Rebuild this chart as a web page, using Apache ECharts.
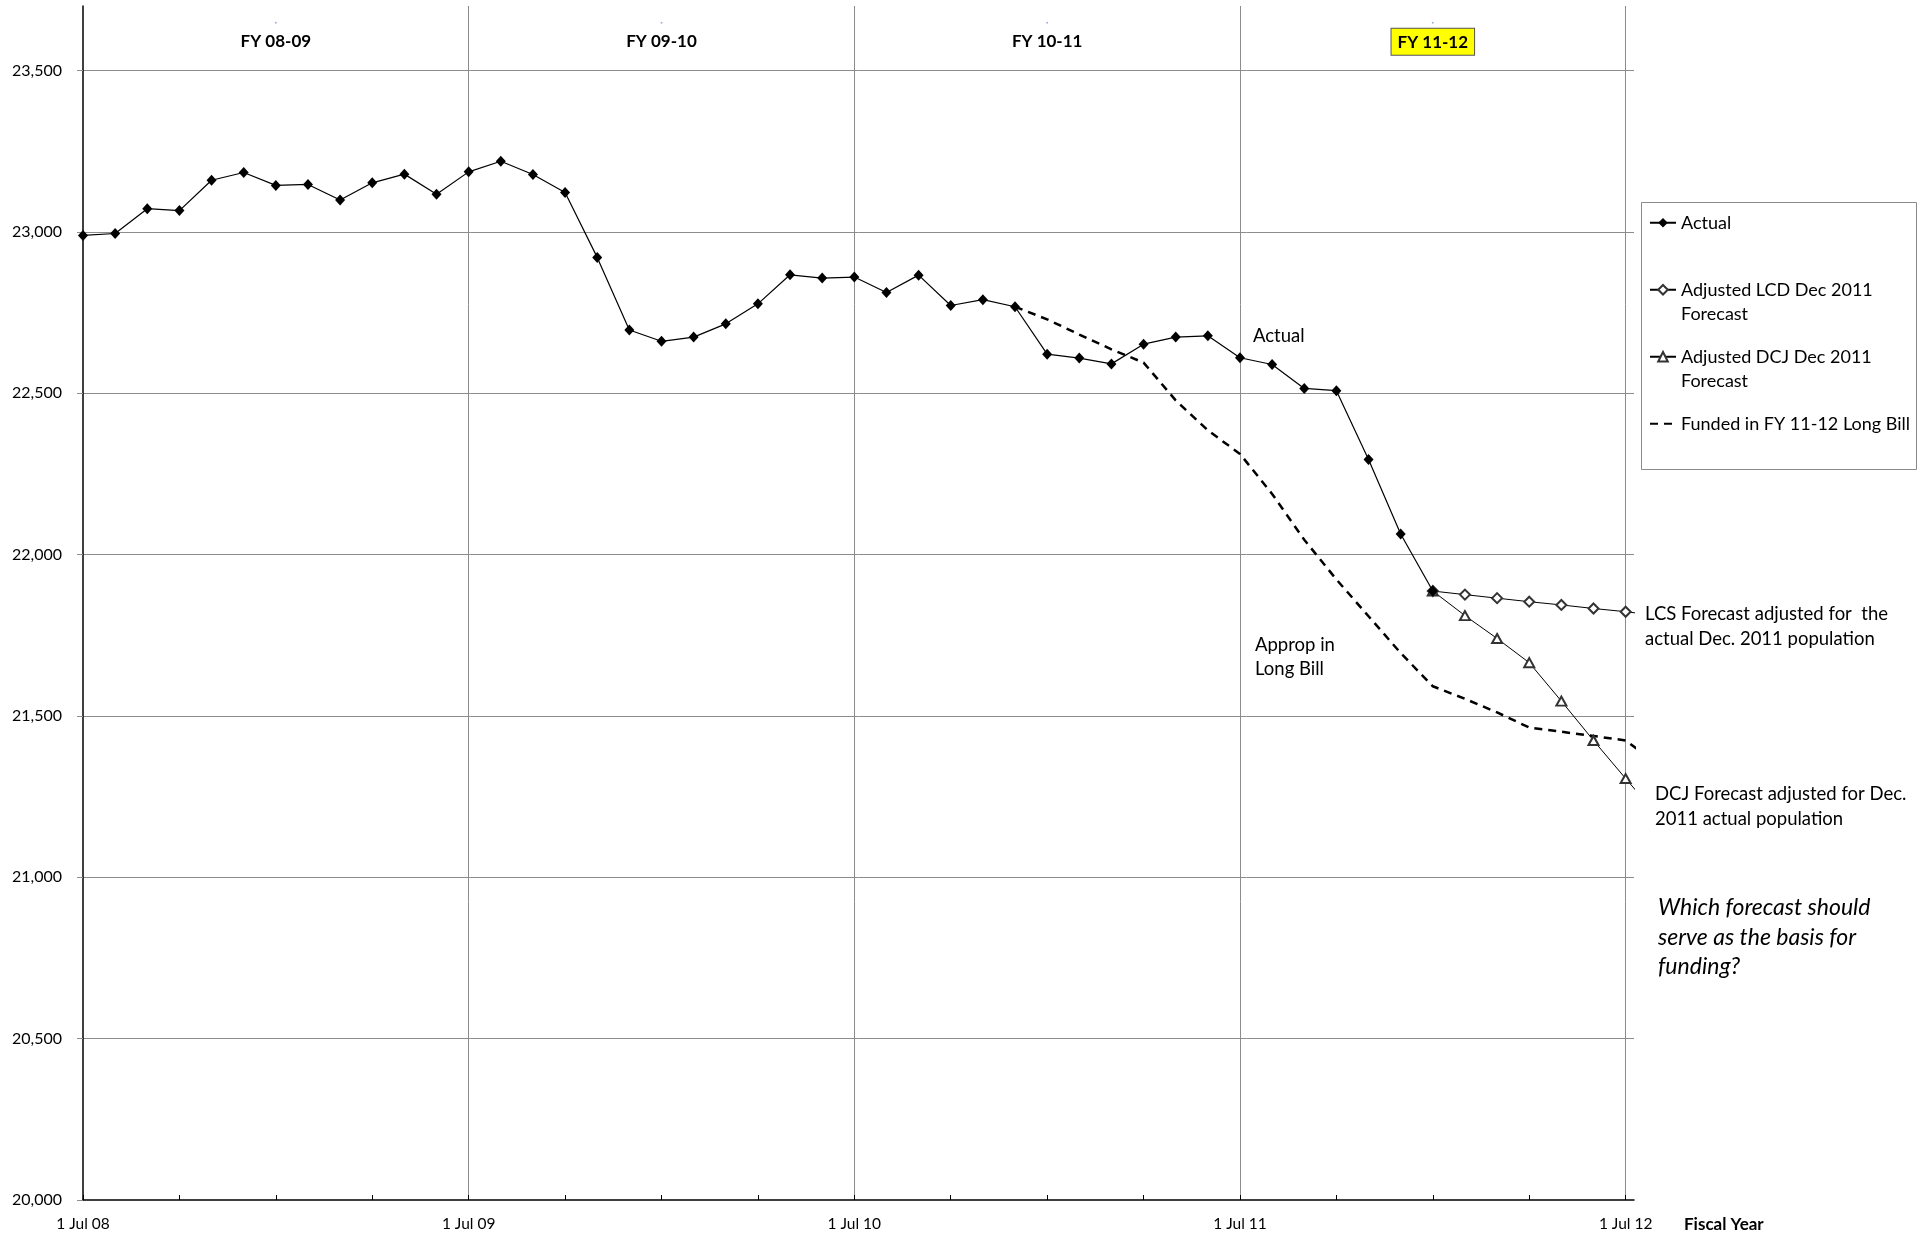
<!DOCTYPE html>
<html>
<head>
<meta charset="utf-8">
<title>Prison population: actual vs. forecasts</title>
<script src="https://cdn.jsdelivr.net/npm/echarts@6/dist/echarts.min.js"></script>
<style>
  html, body { margin: 0; padding: 0; background: #fff; }
  #chart { width: 1926px; height: 1237px; }
</style>
</head>
<body>
<div id="chart"></div>
<script>
// Month offsets are counted from 1 Jul 2008 (0) — one unit per month.
const actualStart = 0;           // Jul 08
const actual = [
  22989, 22995, 23072, 23066, 23160, 23184, 23144, 23147, 23099, 23152, 23179, 23117, // FY 08-09
  23186, 23219, 23178, 23122, 22921, 22696, 22661, 22674, 22715, 22777, 22867, 22857, // FY 09-10
  22860, 22812, 22866, 22772, 22790, 22768, 22621, 22609, 22591, 22652, 22674, 22678, // FY 10-11
  22610, 22589, 22515, 22508, 22295, 22064, 21887                                      // FY 11-12 to Jan
];

const forecastStart = 42;        // Jan 12
const lcdForecast = [21887, 21876, 21865, 21854, 21844, 21833, 21823, 21811];
const dcjForecast = [21887, 21811, 21740, 21665, 21546, 21424, 21306, 21190];

const fundedStart = 29;          // Dec 10
const funded = [
  22768, 22729, 22682, 22636, 22595, 22478, 22385, 22312, 22188, 22046, 21923,
  21809, 21695, 21592, 21553, 21511, 21464, 21451, 21438, 21424, 21350
];

const yearTickLabels = ['1 Jul 08', '1 Jul 09', '1 Jul 10', '1 Jul 11', '1 Jul 12'];
const fiscalYears = ['FY 08-09', 'FY 09-10', 'FY 10-11', 'FY 11-12'];
const fiscalMid = [6, 18, 30, 42];
const fiscalMarkY = 23648;

const seriesNames = [
  'Actual',
  'Adjusted LCD Dec 2011 Forecast',
  'Adjusted DCJ Dec 2011 Forecast',
  'Funded in FY 11-12 Long Bill'
];
const legendText = {
  'Actual': '\nActual\n',
  'Adjusted LCD Dec 2011 Forecast': '\nAdjusted LCD Dec 2011\nForecast',
  'Adjusted DCJ Dec 2011 Forecast': '\nAdjusted DCJ Dec 2011\nForecast',
  'Funded in FY 11-12 Long Bill': '\nFunded in FY 11-12 Long Bill\n'
};

const FONT = 'Lato, "Open Sans", "Noto Sans", sans-serif';
const NOTE_SIZE = 18.5;

function toPairs(start, values) {
  return values.map((v, i) => [start + i, v]);
}

const chart = echarts.init(document.getElementById('chart'), null, { renderer: 'canvas' });

const gridColor = '#8c8c8c';
const clear = 'rgba(0,0,0,0)';

const fyText = {
  fontFamily: FONT, fontSize: 17, fontWeight: 'bold', color: '#000',
  textBorderWidth: 0, textBorderColor: clear, textShadowBlur: 0
};
const fyRich = {
  fy: Object.assign({}, fyText),
  hl: Object.assign({}, fyText, {
    backgroundColor: '#ffff00', borderColor: '#555', borderWidth: 1,
    padding: [5, 6, 4, 6]
  })
};

chart.setOption({
  backgroundColor: '#ffffff',
  animation: false,
  textStyle: { fontFamily: FONT },
  grid: { left: 83, right: 292, top: 6, bottom: 37, outerBoundsMode: 'none' },
  xAxis: {
    type: 'value',
    min: 0,
    max: 48.26,
    interval: 3,
    name: 'Fiscal Year',
    nameLocation: 'end',
    nameGap: 50,
    nameTextStyle: {
      fontFamily: FONT, fontSize: 17, fontWeight: 'bold', color: '#000',
      align: 'left', verticalAlign: 'top', padding: [16, 0, 0, 0]
    },
    axisLine: { onZero: false, lineStyle: { color: '#000', width: 1.5 } },
    axisTick: { show: true, inside: true, length: 5, lineStyle: { color: '#000' } },
    axisLabel: {
      margin: 16,
      fontFamily: FONT, fontSize: 15.5, color: '#000',
      showMaxLabel: false,
      formatter: function (v) {
        const k = Math.round(v);
        if (Math.abs(v - k) > 1e-6 || k % 12 !== 0) return '';
        return yearTickLabels[k / 12] || '';
      }
    },
    // one vertical line per fiscal-year boundary (every fourth quarterly tick)
    splitLine: {
      show: true,
      showMinLine: false,
      showMaxLine: false,
      lineStyle: { color: [clear, clear, clear, gridColor], width: 1 }
    }
  },
  yAxis: {
    type: 'value',
    min: 20000,
    max: 23700,
    interval: 500,
    axisLine: { show: true, lineStyle: { color: '#000', width: 1.5 } },
    axisTick: { show: true, length: 6, lineStyle: { color: gridColor } },
    axisLabel: {
      margin: 21,
      fontFamily: FONT, fontSize: 16, color: '#000',
      showMaxLabel: false,
      formatter: v => v.toLocaleString('en-US')
    },
    splitLine: {
      show: true, showMinLine: false, showMaxLine: false,
      lineStyle: { color: gridColor, width: 1 }
    }
  },
  legend: {
    data: [
      seriesNames[0],
      seriesNames[1],
      seriesNames[2],
      { name: seriesNames[3], itemStyle: { opacity: 0 } }
    ],
    orient: 'vertical',
    left: 1649,
    top: 186,
    padding: 0,
    itemWidth: 26,
    itemHeight: 12,
    itemGap: -6.5,
    selectedMode: false,
    formatter: name => legendText[name],
    textStyle: { fontFamily: FONT, fontSize: 18, lineHeight: 24.5, color: '#000' }
  },
  series: [
    {
      name: 'Funded in FY 11-12 Long Bill',
      type: 'line',
      data: toPairs(fundedStart, funded),
      symbol: 'none',
      clip: true,
      z: 3,
      lineStyle: { color: '#000', width: 2.5, type: [8, 6] },
      itemStyle: { color: '#000' }
    },
    {
      name: 'Adjusted DCJ Dec 2011 Forecast',
      type: 'line',
      data: toPairs(forecastStart, dcjForecast),
      symbol: 'emptyTriangle',
      symbolSize: [10, 9],
      clip: true,
      z: 4,
      lineStyle: { color: '#000', width: 1 },
      itemStyle: { color: '#333', borderWidth: 1 }
    },
    {
      name: 'Adjusted LCD Dec 2011 Forecast',
      type: 'line',
      data: toPairs(forecastStart, lcdForecast),
      symbol: 'emptyDiamond',
      symbolSize: [10, 10],
      clip: true,
      z: 5,
      lineStyle: { color: '#000', width: 1 },
      itemStyle: { color: '#333', borderWidth: 1 }
    },
    {
      name: 'Actual',
      type: 'line',
      data: toPairs(actualStart, actual),
      symbol: 'diamond',
      symbolSize: [10, 11],
      clip: false,
      z: 6,
      lineStyle: { color: '#000', width: 1.2 },
      itemStyle: { color: '#000' }
    },
    {
      name: 'Fiscal year',
      type: 'scatter',
      data: fiscalMid.map(m => [m, fiscalMarkY]),
      symbol: 'circle',
      symbolSize: 2,
      itemStyle: { color: '#9fb3da', opacity: 1 },
      z: 7,
      label: Object.assign({
        show: true,
        position: 'inside',
        offset: [0, 19],
        formatter: p => {
          const style = p.dataIndex === fiscalYears.length - 1 ? 'hl' : 'fy';
          return '{' + style + '|' + fiscalYears[p.dataIndex] + '}';
        },
        rich: fyRich
      }, fyText),
      emphasis: { disabled: true }
    }
  ],
  graphic: [
    {
      type: 'rect',
      silent: true,
      shape: { x: 1641.5, y: 202.5, width: 275, height: 267 },
      style: { fill: 'none', stroke: '#8a8a8a', lineWidth: 1 }
    },
    {
      type: 'text', silent: true,
      style: { x: 1253, y: 336, text: 'Actual', fontFamily: FONT, fontSize: NOTE_SIZE,
               fill: '#000', verticalAlign: 'middle' }
    },
    {
      type: 'text', silent: true,
      style: { x: 1255, y: 633, text: 'Approp in\nLong Bill', fontFamily: FONT, fontSize: NOTE_SIZE,
               lineHeight: 24, fill: '#000', verticalAlign: 'top' }
    },
    {
      type: 'text', silent: true,
      style: { x: 1645, y: 601.5, text: 'LCS Forecast adjusted for  the\nactual Dec. 2011 population',
               fontFamily: FONT, fontSize: NOTE_SIZE, lineHeight: 25, fill: '#000', verticalAlign: 'top' }
    },
    {
      type: 'text', silent: true,
      style: { x: 1655, y: 782, text: 'DCJ Forecast adjusted for Dec.\n2011 actual population',
               fontFamily: FONT, fontSize: NOTE_SIZE, lineHeight: 25, fill: '#000', verticalAlign: 'top' }
    },
    {
      type: 'text', silent: true,
      style: { x: 1658, y: 893, text: 'Which forecast should\nserve as the basis for\nfunding?',
               fontFamily: FONT, fontSize: 23, fontStyle: 'italic', lineHeight: 29.5,
               fill: '#000', verticalAlign: 'top' }
    }
  ]
});
</script>
</body>
</html>
